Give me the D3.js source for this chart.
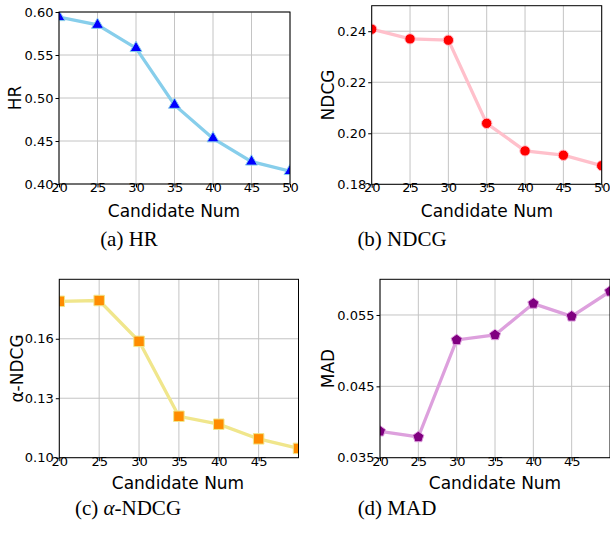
<!DOCTYPE html>
<html>
<head>
<meta charset="utf-8">
<script src="https://cdn.jsdelivr.net/npm/d3@7"></script>
<style>
  body { margin: 0; background: #fff; }
  svg { display: block; }
  .tick text { font-family: "DejaVu Sans", sans-serif; font-size: 13px; fill: #000; }
  .axlabel { font-family: "DejaVu Sans", sans-serif; font-size: 17px; fill: #000; }
  .caption { font-family: "Liberation Serif", "Times New Roman", serif; font-size: 21px; fill: #000; }
</style>
</head>
<body>
<script>
// data
var candidateNum = [20, 25, 30, 35, 40, 45, 50];
var hr = [0.594, 0.585, 0.558, 0.492, 0.453, 0.426, 0.415];
var ndcg = [0.2408, 0.2370, 0.2365, 0.2039, 0.1931, 0.1914, 0.1873];
var alphaNdcg = [0.1789, 0.1793, 0.1587, 0.1209, 0.1169, 0.1095, 0.1047];
var mad = [0.0387, 0.0379, 0.0515, 0.0522, 0.0566, 0.0548, 0.0583];

// tick labels
var xTicksFull = [20, 25, 30, 35, 40, 45, 50];
var xTicksShort = [20, 25, 30, 35, 40, 45];
var hrTicks = [0.40, 0.45, 0.50, 0.55, 0.60];
var ndcgTicks = [0.18, 0.20, 0.22, 0.24];
var alphaTicks = [0.10, 0.13, 0.16];
var madTicks = [0.035, 0.045, 0.055];

var width = 610, height = 535;

var svg = d3.select("body").append("svg")
    .attr("width", width)
    .attr("height", height);

// matplotlib-like pentagon marker
var pentagon = {
    draw: function(context, size) {
        var r = Math.sqrt(size / 2.378);
        for (var i = 0; i < 5; i++) {
            var a = -Math.PI / 2 + i * 2 * Math.PI / 5;
            if (i === 0) context.moveTo(r * Math.cos(a), r * Math.sin(a));
            else context.lineTo(r * Math.cos(a), r * Math.sin(a));
        }
        context.closePath();
    }
};

var panels = [
    { id: "a", values: hr, yDomain: [0.40, 0.60], yTicks: hrTicks, fmt: ".2f", xTicks: xTicksFull,
      box: [59, 290, 12, 184], ylabel: "HR", ylabelX: 15,
      line: "#87ceeb", marker: "#0000ff", symbol: d3.symbolTriangle, size: 62,
      xlabelPos: [174, 217], caption: ["(a) HR"], capPos: [129, 246] },
    { id: "b", values: ndcg, yDomain: [0.18, 0.25], yTicks: ndcgTicks, fmt: ".2f", xTicks: xTicksFull,
      box: [371.7, 601.7, 5.7, 184.3], ylabel: "NDCG", ylabelX: 328,
      line: "#ffc0cb", marker: "#ff0000", symbol: d3.symbolCircle, size: 85,
      xlabelPos: [487, 217], caption: ["(b) NDCG"], capPos: [402, 246] },
    { id: "c", values: alphaNdcg, yDomain: [0.10, 0.19], yTicks: alphaTicks, fmt: ".2f", xTicks: xTicksShort,
      box: [59.3, 298.5, 279.3, 457.7], ylabel: "α-NDCG", ylabelX: 17,
      line: "#f0e68c", marker: "#ff8c00", symbol: d3.symbolSquare, size: 110,
      xlabelPos: [178, 489], caption: ["(c) ", "α", "-NDCG"], capPos: [128, 515] },
    { id: "d", values: mad, yDomain: [0.035, 0.060], yTicks: madTicks, fmt: ".3f", xTicks: xTicksShort,
      box: [380, 610, 279.3, 457.7], ylabel: "MAD", ylabelX: 328,
      line: "#dda0dd", marker: "#800080", symbol: pentagon, size: 80,
      xlabelPos: [495, 489], caption: ["(d) MAD"], capPos: [397, 515] }
];

panels.forEach(function(p) {
    var left = p.box[0], right = p.box[1], top = p.box[2], bottom = p.box[3];

    var x = d3.scaleLinear().domain([20, 50]).range([left, right]);
    var y = d3.scaleLinear().domain(p.yDomain).range([bottom, top]);

    var g = svg.append("g");

    g.append("clipPath")
        .attr("id", "clip-" + p.id)
        .append("rect")
        .attr("x", left).attr("y", top)
        .attr("width", right - left).attr("height", bottom - top);

    // grid
    g.selectAll(".vgrid")
        .data(p.xTicks)
        .enter().append("line")
        .attr("x1", function(d) { return x(d); })
        .attr("x2", function(d) { return x(d); })
        .attr("y1", top).attr("y2", bottom)
        .style("stroke", "#c4c4c4")
        .style("stroke-width", 1);

    g.selectAll(".hgrid")
        .data(p.yTicks)
        .enter().append("line")
        .attr("x1", left).attr("x2", right)
        .attr("y1", function(d) { return y(d); })
        .attr("y2", function(d) { return y(d); })
        .style("stroke", "#c4c4c4")
        .style("stroke-width", 1);

    // line + markers
    var pts = candidateNum.map(function(c, i) { return [c, p.values[i]]; });

    var plot = g.append("g").attr("clip-path", "url(#clip-" + p.id + ")");

    plot.append("path")
        .datum(pts)
        .attr("d", d3.line()
            .x(function(d) { return x(d[0]); })
            .y(function(d) { return y(d[1]); }))
        .style("fill", "none")
        .style("stroke", p.line)
        .style("stroke-width", 3.3);

    plot.selectAll(".pt")
        .data(pts)
        .enter().append("path")
        .attr("transform", function(d) { return "translate(" + x(d[0]) + "," + y(d[1]) + ")"; })
        .attr("d", d3.symbol().type(p.symbol).size(p.size))
        .style("fill", p.marker)
        .style("stroke", p.line)
        .style("stroke-width", 1);

    // axes
    var xAxis = d3.axisBottom(x).tickValues(p.xTicks).tickSize(3.5).tickPadding(0).tickFormat(d3.format("d"));
    var yAxis = d3.axisLeft(y).tickValues(p.yTicks).tickSize(3.5).tickPadding(2).tickFormat(d3.format(p.fmt));

    var gx = g.append("g").attr("transform", "translate(0," + bottom + ")").call(xAxis);
    var gy = g.append("g").attr("transform", "translate(" + left + ",0)").call(yAxis);
    gx.select(".domain").remove();
    gy.select(".domain").remove();
    gx.selectAll(".tick line").style("stroke", "#000");
    gy.selectAll(".tick line").style("stroke", "#000");
    gx.selectAll(".tick text").attr("dy", "0.35em");

    // frame
    g.append("rect")
        .attr("x", left).attr("y", top)
        .attr("width", right - left).attr("height", bottom - top)
        .style("fill", "none")
        .style("stroke", "#000")
        .style("stroke-width", 1);

    // labels
    g.append("text")
        .attr("class", "axlabel")
        .attr("x", p.xlabelPos[0]).attr("y", p.xlabelPos[1])
        .attr("text-anchor", "middle")
        .text("Candidate Num");

    g.append("text")
        .attr("class", "axlabel")
        .attr("transform", "translate(" + p.ylabelX + "," + ((top + bottom) / 2) + ") rotate(-90)")
        .attr("text-anchor", "middle")
        .attr("dy", "0.35em")
        .text(p.ylabel);

    var cap = g.append("text")
        .attr("class", "caption")
        .attr("x", p.capPos[0]).attr("y", p.capPos[1])
        .attr("text-anchor", "middle");
    p.caption.forEach(function(s, i) {
        var t = cap.append("tspan").text(s);
        if (s === "α") t.style("font-style", "italic");
    });
});
</script>
</body>
</html>
